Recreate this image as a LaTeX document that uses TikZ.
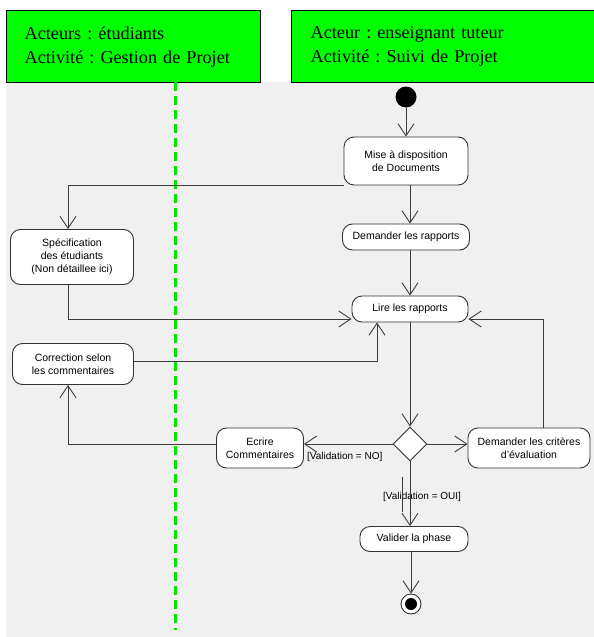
\documentclass[tikz,border=0pt]{standalone}
\usepackage{fontspec}
\setmainfont{Liberation Serif}
\setsansfont{Liberation Sans}
\usetikzlibrary{arrows.meta}
\usetikzlibrary{shapes.geometric}
\frenchspacing

\begin{document}
\begin{tikzpicture}[x=1pt,y=1pt,yscale=-1,xscale=1,
  act/.style={draw={rgb, 255:red, 50; green, 50; blue, 50 },fill=white,rounded corners=10pt,line width=0.9pt,inner sep=0pt,align=center,font=\sffamily\fontsize{10.5}{13}\selectfont},
  flow/.style={draw={rgb, 255:red, 60; green, 60; blue, 60 },line width=0.9pt,-{Straight Barb[length=12pt,width=16pt]}},
  wire/.style={draw={rgb, 255:red, 60; green, 60; blue, 60 },line width=0.9pt},
  guard/.style={inner sep=0pt,font=\sffamily\fontsize{10}{12}\selectfont},
  lane/.style={draw=black,line width=1.4pt,fill={rgb, 255:red, 0; green, 255; blue, 0 },anchor=north west,align=left,inner ysep=0pt,font=\fontsize{18.2}{24}\selectfont},
  swim/.style={draw={rgb, 255:red, 0; green, 230; blue, 0 },line width=3pt,dash pattern=on 9pt off 5pt}
]
\useasboundingbox (0,0) rectangle (594,637);

%Background
\fill [fill={rgb, 255:red, 240; green, 240; blue, 240 }] (6,82) rectangle (594,637);

%Swimlane headers
\node [lane,minimum width=254pt,minimum height=72pt,text width=218pt,inner xsep=18pt] (laneE) at (6,10) {Acteurs : étudiants\\Activité : Gestion de Projet};
\node [lane,minimum width=305pt,minimum height=72pt,text width=267pt,inner xsep=19pt] (laneT) at (291,10) {Acteur : enseignant tuteur\\Activité : Suivi de Projet};

%Swimlane separator
\draw [swim] (175,82) -- (175,630);

%Activities
\node [circle,fill=black,minimum size=21pt,inner sep=0pt] (init) at (406,97) {};
\node [act,minimum width=124pt,minimum height=48pt] (mise) at (406,161) {Mise à disposition\\de Documents};
\node [act,minimum width=127pt,minimum height=26pt] (demRap) at (406,237) {Demander les rapports};
\node [act,minimum width=116pt,minimum height=26pt] (lire) at (410,309) {Lire les rapports};
\node [act,minimum width=123pt,minimum height=55pt] (spec) at (72,257) {Spécification\\des étudiants\\(Non détaillee ici)};
\node [act,minimum width=121pt,minimum height=41pt] (corr) at (73,364) {Correction selon\\les commentaires};
\node [diamond,aspect=1,draw={rgb, 255:red, 50; green, 50; blue, 50 },fill=white,line width=0.9pt,minimum size=34pt,inner sep=0pt] (dec) at (410,444) {};
\node [act,minimum width=122pt,minimum height=40pt] (demCrit) at (529,448) {Demander les critères\\d'évaluation};
\node [act,minimum width=87pt,minimum height=40pt] (ecrire) at (260,448) {Ecrire\\Commentaires};
\node [act,minimum width=108pt,minimum height=25pt] (valider) at (414,539) {Valider la phase};
\node [circle,draw={rgb, 255:red, 50; green, 50; blue, 50 },fill=white,line width=0.9pt,minimum size=20pt,inner sep=0pt] (final) at (411,604) {};
\fill (final.center) circle (6pt);

%Guards
\node [guard,anchor=west] (guardNo) at (307,457) {[Validation = NO]};
\node [guard] (guardOui) at (422,497) {[Validation = OUI]};

%Corner points
\coordinate (leftCol) at (68,444);
\coordinate (rowLire) at (0,319);
\coordinate (corrUp) at (377,361);
\coordinate (critUp) at (543,319);
\coordinate (strayA) at (402,477);
\coordinate (strayB) at (402,512);

%Flows
\draw [flow] (init) -- (init |- mise.north);
\draw [flow] (mise.south -| dec) -- (demRap.north -| dec);
\draw [flow] (demRap.south -| dec) -- (lire.north);
\draw [flow] (mise.south west) -| (spec.north -| leftCol);
\draw [flow] (spec.south -| leftCol) |- (lire.west |- rowLire);
\draw [flow] (corr.east |- corrUp) -- (corrUp) -- (corrUp |- lire.south);
\draw [flow] (lire.south) -- (dec.north);
\draw [flow] (dec.east) -- (demCrit.west |- dec);
\draw [flow] (demCrit.north -| critUp) -- (critUp) -- (lire.east |- critUp);
\draw [flow] (dec.west) -- (ecrire.east |- dec);
\draw [flow] (ecrire.west |- dec) -- (leftCol) -- (leftCol |- corr.south);
\draw [flow] (dec.south) -- (valider.north -| dec);
\draw [wire] (strayA) -- (strayB);
\draw [flow] (valider.south -| final) -- (final.north);

\end{tikzpicture}
\end{document}
